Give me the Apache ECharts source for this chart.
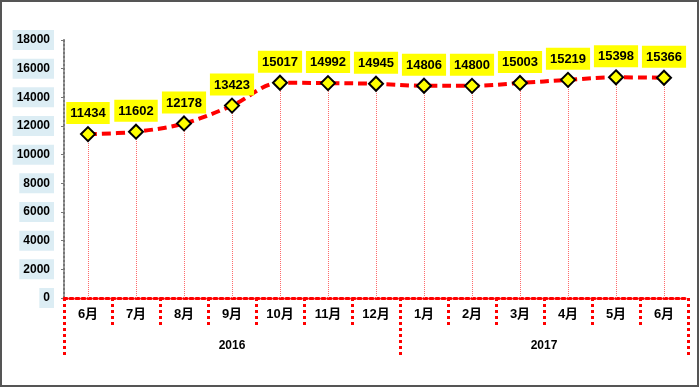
<!DOCTYPE html>
<html>
<head>
<meta charset="utf-8">
<script src="https://cdn.jsdelivr.net/npm/echarts@6/dist/echarts.min.js"></script>
<style>
html,body{margin:0;padding:0;background:#fff;}
#c{width:700px;height:388px;}
</style>
</head>
<body>
<div id="c"></div>
<script>
var months = ['6月','7月','8月','9月','10月','11月','12月','1月','2月','3月','4月','5月','6月'];
var values = [11434, 11602, 12178, 13423, 15017, 14992, 14945, 14806, 14800, 15003, 15219, 15398, 15366];
var years = ['2016', '2017'];
var yearSpans = [7, 6];
var yTicks = [0, 2000, 4000, 6000, 8000, 10000, 12000, 14000, 16000, 18000];

var yearBounds = [0];
var yearMids = [];
(function(){
  var acc = 0;
  for (var i = 0; i < yearSpans.length; i++) {
    yearMids.push(acc + yearSpans[i] / 2);
    acc += yearSpans[i];
    yearBounds.push(acc);
  }
})();

var dropLines = values.map(function (v, i) {
  return [{ coord: [i, 0] }, { coord: [i, v] }];
});

var chart = echarts.init(document.getElementById('c'));
var font = '"Liberation Sans", Arial, "Noto Sans CJK SC", sans-serif';
chart.setOption({
  animation: false,
  backgroundColor: '#fff',
  grid: { left: 64, right: 12, top: 40, bottom: 90 },
  xAxis: [{
    type: 'category',
    data: months,
    position: 'bottom',
    boundaryGap: true,
    axisLine: { show: true, lineStyle: { color: '#ff0000', width: 3, type: 'dotted' } },
    axisTick: { show: true, length: 29, lineStyle: { color: '#ff0000', width: 3, type: 'dotted' } },
    axisLabel: { color: '#000', fontWeight: 'bold', fontSize: 13, fontFamily: font, margin: 10 },
    splitLine: { show: false }
  }, {
    type: 'value',
    min: 0,
    max: months.length,
    position: 'bottom',
    offset: 0,
    axisLine: { show: false },
    axisTick: { show: true, length: 59, customValues: yearBounds, lineStyle: { color: '#ff0000', width: 3, type: 'dotted' } },
    axisLabel: {
      show: true,
      customValues: yearMids,
      formatter: function (v) {
        var idx = yearMids.indexOf(v);
        return idx >= 0 ? years[idx] : '';
      },
      color: '#000', fontWeight: 'bold', fontSize: 12, fontFamily: font, margin: 42
    },
    splitLine: { show: false }
  }],
  yAxis: {
    type: 'value',
    min: 0,
    max: 18000,
    interval: 2000,
    axisLine: { show: true, lineStyle: { color: '#777', width: 2, type: 'dotted' } },
    axisTick: { show: true, length: 3, lineStyle: { color: '#777', width: 1 } },
    axisLabel: {
      color: '#000', fontWeight: 'bold', fontSize: 12, fontFamily: font,
      backgroundColor: '#dcedf4', padding: [4, 4, 4, 4], margin: 10,
      customValues: yTicks,
      formatter: function (v) { return String(v); }
    },
    splitLine: { show: false }
  },
  series: [{
    type: 'line',
    data: values,
    smooth: 0.35,
    symbol: 'diamond',
    symbolSize: [14, 14],
    lineStyle: { color: '#ff0000', width: 4, type: [9, 5] },
    itemStyle: { color: '#ffff00', borderColor: '#000', borderWidth: 2 },
    label: {
      show: true,
      position: 'top',
      distance: 2,
      color: '#000',
      fontWeight: 'bold',
      fontSize: 13,
      fontFamily: font,
      backgroundColor: '#ffff00',
      padding: [5, 4, 4, 4]
    },
    markLine: {
      silent: true,
      symbol: ['none', 'none'],
      label: { show: false },
      lineStyle: { color: '#ff6b6b', width: 1, type: 'dotted', opacity: 1 },
      emphasis: { disabled: true },
      data: dropLines,
      z: 1
    },
    z: 3
  }],
  graphic: [{
    type: 'rect',
    shape: { x: 1, y: 1, width: 697, height: 385 },
    style: { fill: 'none', stroke: '#555', lineWidth: 2 },
    silent: true
  }]
});
</script>
</body>
</html>
